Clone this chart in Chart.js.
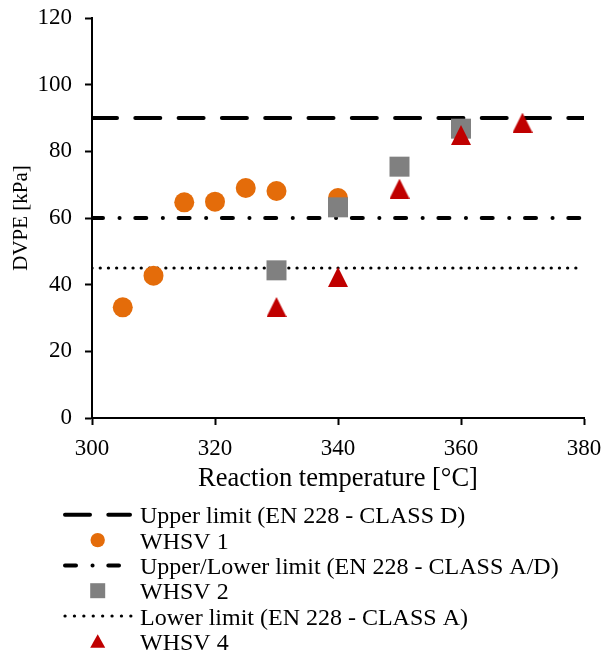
<!DOCTYPE html>
<html>
<head>
<meta charset="utf-8">
<script src="https://cdn.jsdelivr.net/npm/chart.js@4.4.1/dist/chart.umd.min.js"></script>
<style>
  html, body { margin: 0; padding: 0; background: #fff; }
  #chart { display: block; }
</style>
</head>
<body>
<canvas id="chart" width="603" height="653"></canvas>
<script>
// Reaction temperature [°C] and DVPE [kPa] per WHSV series
const whsv1Temp = [305, 310, 315, 320, 325, 330, 340];
const whsv1Dvpe = [33.2, 42.7, 64.7, 64.9, 69.0, 68.1, 66.0];
const whsv2Temp = [330, 340, 350, 360];
const whsv2Dvpe = [44.3, 63.2, 75.4, 86.8];
const whsv4Temp = [330, 340, 350, 360, 370];
const whsv4Dvpe = [33.3, 42.3, 68.8, 84.9, 88.6];

// EN 228 limits, drawn across the whole temperature range
const limitRange = [300, 380];
const upperLimitD = 90;
const upperLowerAD = 60;
const lowerLimitA = 45;

const xTicks = [300, 320, 340, 360, 380];
const yTicks = [0, 20, 40, 60, 80, 100, 120];

const FONT = "'Liberation Serif', 'Times New Roman', serif";
const ORANGE = '#E46C0A';
const GREY = '#808080';
const RED = '#C00000';

function toPoints(xs, ys) {
    return xs.map((x, i) => ({ x: x, y: ys[i] }));
}
function flatLine(value) {
    return limitRange.map(x => ({ x: x, y: value }));
}

// centred triangle marker (Excel style)
function triangleImage(w, h, color) {
    const c = document.createElement('canvas');
    c.width = w; c.height = h;
    const g = c.getContext('2d');
    g.fillStyle = color;
    g.beginPath();
    g.moveTo(w / 2, 0);
    g.lineTo(w, h);
    g.lineTo(0, h);
    g.closePath();
    g.fill();
    return c;
}

// legend drawn as a single column under the plot
const columnLegend = {
    id: 'columnLegend',
    afterDraw(chart) {
        const ctx = chart.ctx;
        const x0 = 65, symX = 97.7, textX = 140;
        ctx.save();
        chart.data.datasets.forEach((ds, i) => {
            const base = 523.3 + i * 25.3;
            const cy = base - 8.5;
            if (ds.showLine) {
                ctx.strokeStyle = ds.borderColor;
                ctx.lineWidth = ds.borderWidth;
                ctx.lineCap = 'round';
                ctx.setLineDash(ds.legendDash || ds.borderDash);
                ctx.beginPath();
                ctx.moveTo(x0, cy);
                ctx.lineTo(ds.legendEnd, cy);
                ctx.stroke();
                ctx.setLineDash([]);
            } else {
                ctx.fillStyle = ds.backgroundColor;
                ctx.beginPath();
                if (ds.legendShape === 'circle') {
                    ctx.arc(symX, cy, 7.2, 0, Math.PI * 2);
                } else if (ds.legendShape === 'square') {
                    ctx.rect(symX - 7.5, cy - 7.5, 15, 15);
                } else {
                    ctx.moveTo(symX, cy - 7);
                    ctx.lineTo(symX + 7.5, cy + 6.5);
                    ctx.lineTo(symX - 7.5, cy + 6.5);
                    ctx.closePath();
                }
                ctx.fill();
            }
            ctx.fillStyle = '#000';
            ctx.font = '24px ' + FONT;
            ctx.textAlign = 'left';
            ctx.textBaseline = 'alphabetic';
            ctx.fillText(ds.label, textX, base);
        });
        ctx.restore();
    }
};

const datasets = [
    {
        label: 'Upper limit (EN 228 - CLASS D)',
        data: flatLine(upperLimitD),
        showLine: true,
        borderColor: '#000',
        borderWidth: 4,
        borderDash: [25, 18.3],
        borderCapStyle: 'round',
        pointRadius: 0,
        legendEnd: 130,
        order: 5
    },
    {
        label: 'WHSV 1',
        data: toPoints(whsv1Temp, whsv1Dvpe),
        backgroundColor: ORANGE,
        borderWidth: 0,
        pointStyle: 'circle',
        pointRadius: 10,
        legendShape: 'circle',
        order: 2
    },
    {
        label: 'Upper/Lower limit (EN 228 - CLASS A/D)',
        data: flatLine(upperLowerAD),
        showLine: true,
        borderColor: '#000',
        borderWidth: 4,
        borderDash: [11, 16.5, 0.1, 15.7],
        borderCapStyle: 'round',
        pointRadius: 0,
        legendEnd: 119,
        order: 4
    },
    {
        label: 'WHSV 2',
        data: toPoints(whsv2Temp, whsv2Dvpe),
        backgroundColor: GREY,
        borderWidth: 0,
        pointStyle: 'rect',
        pointRadius: 14.14,
        legendShape: 'square',
        order: 1
    },
    {
        label: 'Lower limit (EN 228 - CLASS A)',
        data: flatLine(lowerLimitA),
        showLine: true,
        borderColor: '#000',
        borderWidth: 3.2,
        borderDash: [0.1, 8.1],
        borderCapStyle: 'round',
        pointRadius: 0,
        legendDash: [0.1, 9.3],
        legendEnd: 131,
        order: 3
    },
    {
        label: 'WHSV 4',
        data: toPoints(whsv4Temp, whsv4Dvpe),
        backgroundColor: RED,
        borderWidth: 0,
        pointStyle: triangleImage(20, 20, RED),
        pointRadius: 10,
        legendShape: 'triangle',
        order: 0
    }
];

new Chart(document.getElementById('chart'), {
    type: 'scatter',
    data: { datasets: datasets },
    options: {
        responsive: false,
        animation: false,
        devicePixelRatio: 1,
        layout: { padding: { left: 0, top: 18, right: 19, bottom: 158.4 } },
        plugins: {
            legend: { display: false },
            tooltip: { enabled: false }
        },
        scales: {
            x: {
                type: 'linear',
                min: xTicks[0],
                max: xTicks[xTicks.length - 1],
                afterBuildTicks: s => { s.ticks = xTicks.map(v => ({ value: v })); },
                afterFit: s => { s.height = 76.6; s.paddingLeft = 0; s.paddingRight = 0; },
                ticks: { color: '#000', padding: 10, font: { family: FONT, size: 23 } },
                grid: { drawOnChartArea: false, drawTicks: true, tickLength: 7, tickWidth: 2, tickColor: '#000' },
                border: { display: true, color: '#000', width: 2 },
                title: {
                    display: true,
                    text: 'Reaction temperature [°C]',
                    color: '#000',
                    font: { family: FONT, size: 26.5 },
                    padding: { top: 0, bottom: 0 }
                }
            },
            y: {
                type: 'linear',
                min: yTicks[0],
                max: yTicks[yTicks.length - 1],
                afterBuildTicks: s => { s.ticks = yTicks.map(v => ({ value: v })); },
                afterFit: s => { s.width = 92; s.paddingTop = 0; s.paddingBottom = 0; },
                ticks: { color: '#000', padding: 13, font: { family: FONT, size: 23 } },
                grid: { drawOnChartArea: false, drawTicks: true, tickLength: 7, tickWidth: 2, tickColor: '#000' },
                border: { display: true, color: '#000', width: 2 },
                title: {
                    display: true,
                    text: 'DVPE [kPa]',
                    color: '#000',
                    font: { family: FONT, size: 21 },
                    padding: { top: 8.5, bottom: 0 }
                }
            }
        }
    },
    plugins: [columnLegend]
});
</script>
</body>
</html>
